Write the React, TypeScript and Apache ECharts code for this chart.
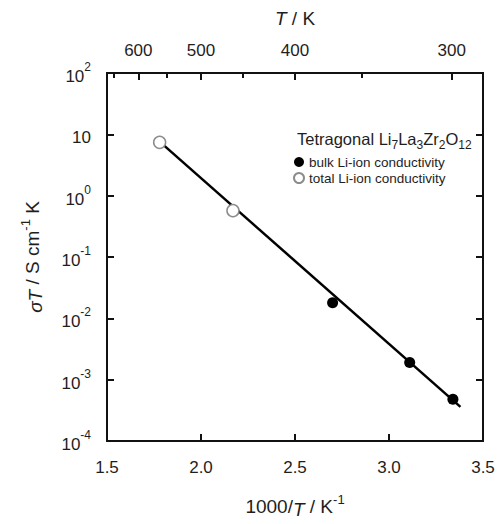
import React, { useEffect, useRef } from "react";
import * as echarts from "echarts";

// Data
const bulkX = [2.7, 3.11, 3.34];
const bulkY = [0.018, 0.0019, 0.00048];
const totalX = [1.78, 2.17];
const totalY = [7.4, 0.57];
const fitX = [1.78, 3.38];
const fitY = [7.6, 0.00036];
const tempMajor = [600, 500, 400, 300];
const tempMinor = [650, 550, 450, 350];
const yDecades = [1e-4, 1e-3, 1e-2, 1e-1, 1, 10, 100];

const FONT = "Liberation Sans, Arial, sans-serif";
const TXT = "#1e1e1e";
const AX = "#111";

export default function App() {
  const ref = useRef<HTMLDivElement>(null);
  useEffect(() => {
    document.body.style.margin = "0";
    if (!ref.current) return;
    const chart = echarts.init(ref.current, undefined, { renderer: "svg" });
    const axisLine = { show: true, lineStyle: { color: AX, width: 2 } };
    const sup = { fontSize: 12, lineHeight: 24, verticalAlign: "top", fontFamily: FONT, color: TXT };
    chart.setOption({
      animation: false,
      backgroundColor: "#fff",
      textStyle: { fontFamily: FONT },
      title: {
        text: "Tetragonal Li{s|7}La{s|3}Zr{s|2}O{s|12}",
        left: 292,
        top: 122,
        textStyle: {
          fontSize: 16.5,
          fontWeight: "normal",
          color: TXT,
          fontFamily: FONT,
          lineHeight: 20,
          verticalAlign: "top",
          rich: {
            s: { fontSize: 12, verticalAlign: "bottom", lineHeight: 24, fontFamily: FONT, color: TXT },
          },
        },
      },
      legend: {
        orient: "vertical",
        left: 288,
        top: 150,
        itemWidth: 10,
        itemHeight: 10,
        itemGap: 2,
        icon: "circle",
        textStyle: { fontSize: 13.5, lineHeight: 14, color: TXT, fontFamily: FONT },
        data: ["bulk Li-ion conductivity", "total Li-ion conductivity"],
      },
      grid: { left: 107, right: 21, top: 73, bottom: 78, containLabel: false },
      xAxis: [
        {
          type: "value",
          position: "bottom",
          min: 1.5,
          max: 3.5,
          interval: 0.5,
          axisLine,
          axisTick: { show: true, inside: true, length: 7, lineStyle: { color: AX, width: 2 } },
          splitLine: { show: false },
          axisLabel: {
            fontSize: 17,
            color: TXT,
            fontFamily: FONT,
            margin: 18,
            formatter: (v: number) => v.toFixed(1),
          },
          name: "1000/{i|T} / K{s|-1}",
          nameLocation: "middle",
          nameGap: 52,
          nameTextStyle: {
            fontSize: 19,
            color: TXT,
            fontFamily: FONT,
            lineHeight: 26,
            rich: {
              i: { fontSize: 19, fontStyle: "italic", lineHeight: 26, verticalAlign: "bottom", fontFamily: FONT, color: TXT },
              s: { fontSize: 13, lineHeight: 26, verticalAlign: "top", fontFamily: FONT, color: TXT },
            },
          },
        },
        {
          type: "value",
          position: "top",
          min: 1.5,
          max: 3.5,
          axisLine,
          axisTick: {
            show: true,
            inside: true,
            length: 7,
            customValues: tempMajor.map((t) => 1000 / t),
            lineStyle: { color: AX, width: 2 },
          },
          axisLabel: {
            show: true,
            fontSize: 17,
            color: TXT,
            fontFamily: FONT,
            margin: 14,
            customValues: tempMajor.map((t) => 1000 / t),
            formatter: (v: number) => String(Math.round(1000 / v)),
          },
          splitLine: { show: false },
          name: "{i|T} / K",
          nameLocation: "middle",
          nameGap: 45,
          nameTextStyle: {
            fontSize: 19,
            color: TXT,
            fontFamily: FONT,
            rich: {
              i: { fontSize: 19, fontStyle: "italic", fontFamily: FONT, color: TXT },
            },
          },
        },
        {
          type: "value",
          position: "top",
          min: 1.5,
          max: 3.5,
          axisLine,
          axisTick: {
            show: true,
            inside: true,
            length: 5,
            customValues: tempMinor.map((t) => 1000 / t),
            lineStyle: { color: AX, width: 2 },
          },
          axisLabel: { show: false },
          splitLine: { show: false },
        },
      ],
      yAxis: [
        {
          type: "log",
          logBase: 10,
          position: "left",
          min: 1e-4,
          max: 100,
          axisLine,
          axisTick: {
            show: true,
            inside: true,
            length: 7,
            customValues: yDecades,
            lineStyle: { color: AX, width: 2 },
          },
          splitLine: { show: false },
          axisLabel: {
            margin: 16,
            customValues: yDecades,
            color: TXT,
            fontFamily: FONT,
            formatter: (v: number) => {
              const e = Math.round(Math.log10(v));
              return e === 1 ? "{b|10}" : `{b|10}{s|${e}}`;
            },
            rich: {
              b: { fontSize: 17, lineHeight: 24, verticalAlign: "bottom", fontFamily: FONT, color: TXT },
              s: sup,
            },
          },
          name: "{i|σT} / S cm{s|-1} K",
          nameLocation: "middle",
          nameGap: 62,
          nameTextStyle: {
            fontSize: 19,
            color: TXT,
            fontFamily: FONT,
            lineHeight: 26,
            verticalAlign: "bottom",
            rich: {
              i: { fontSize: 19, fontStyle: "italic", lineHeight: 26, verticalAlign: "bottom", fontFamily: FONT, color: TXT },
              s: { fontSize: 13, lineHeight: 26, verticalAlign: "top", fontFamily: FONT, color: TXT },
            },
          },
        },
        {
          type: "log",
          logBase: 10,
          position: "right",
          min: 1e-4,
          max: 100,
          axisLine,
          axisTick: {
            show: true,
            inside: true,
            length: 7,
            customValues: yDecades,
            lineStyle: { color: AX, width: 2 },
          },
          axisLabel: { show: false },
          splitLine: { show: false },
        },
      ],
      series: [
        {
          name: "fit",
          type: "line",
          data: fitX.map((x, i) => [x, fitY[i]]),
          showSymbol: false,
          symbol: "none",
          lineStyle: { color: "#000", width: 2.5 },
          z: 1,
        },
        {
          name: "bulk Li-ion conductivity",
          type: "scatter",
          data: bulkX.map((x, i) => [x, bulkY[i]]),
          symbol: "circle",
          symbolSize: 11,
          itemStyle: { color: "#000", borderColor: "#000", borderWidth: 0, opacity: 1 },
          z: 3,
        },
        {
          name: "total Li-ion conductivity",
          type: "scatter",
          data: totalX.map((x, i) => [x, totalY[i]]),
          symbol: "circle",
          symbolSize: 12,
          itemStyle: { color: "#fff", borderColor: "#8c8c8c", borderWidth: 1.5, opacity: 1 },
          z: 3,
        },
      ],
    });
    return () => chart.dispose();
  }, []);
  return <div ref={ref} style={{ width: 504, height: 524 }} />;
}
